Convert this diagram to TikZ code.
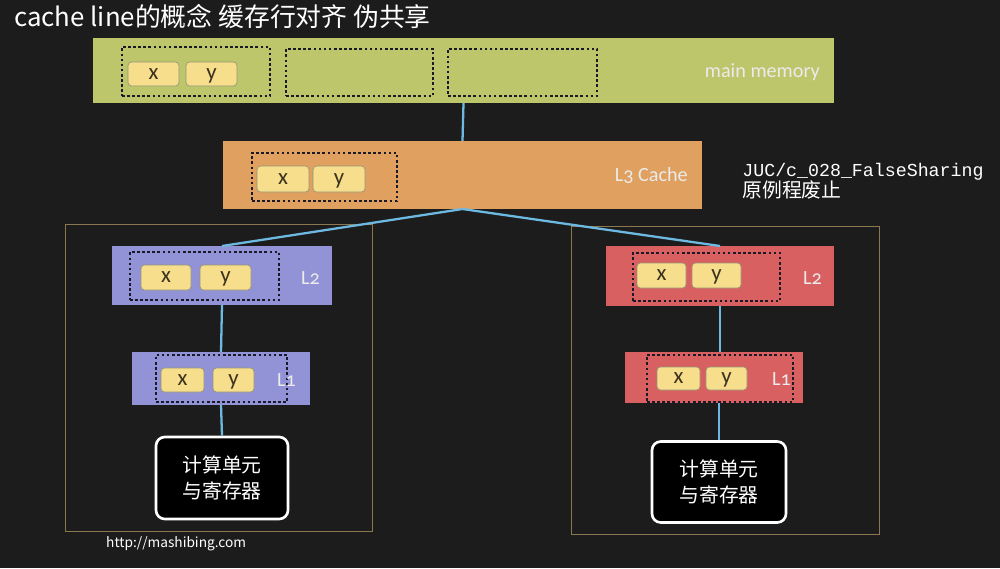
\documentclass[tikz,border=0pt]{standalone}
\usepackage{fontspec}
\setmainfont{Noto Sans CJK SC}
\newfontfamily\lbl[Numbers=OldStyle]{Carlito}
\setmonofont{Liberation Mono}
\usetikzlibrary{fit}

\definecolor{board}{RGB}{28,28,28}
\definecolor{memgreen}{RGB}{190,198,108}
\definecolor{l3orange}{RGB}{224,160,96}
\definecolor{coreblue}{RGB}{146,146,214}
\definecolor{corered}{RGB}{216,96,96}
\definecolor{cellyellow}{RGB}{246,222,140}
\definecolor{cellrim}{RGB}{150,150,120}
\definecolor{celltext}{RGB}{60,50,30}
\definecolor{linkblue}{RGB}{110,185,225}
\definecolor{frameline}{RGB}{140,120,80}
\definecolor{dotline}{RGB}{25,25,40}

\tikzset{
  level/.style={inner sep=0pt, outer sep=0pt},
  cacheline/.style={draw=dotline, line width=1.6pt, dash pattern=on 1.5pt off 1.4pt,
    inner sep=0pt},
  cell/.style 2 args={fill=cellyellow, draw=cellrim, rounded corners=2pt, inner sep=0pt,
    minimum width=#1*0.02cm, minimum height=#2*0.02cm,
    text=celltext, font=\lbl\fontsize{13}{14}\selectfont, text height=1.4ex, text depth=.35ex},
  tag/.style={text=white!92!black, font=\lbl\fontsize{11.5}{13}\selectfont, anchor=east},
  link/.style={draw=linkblue, line width=1.3pt},
  core/.style={draw=frameline, line width=0.5pt},
  cpu/.style={fill=black, draw=white, line width=1.5pt, rounded corners=5pt, inner sep=0pt,
    text=white, align=center, font=\fontsize{11.3}{14.7}\selectfont}
}

\begin{document}
\begin{tikzpicture}[x=0.02cm,y=-0.02cm]
  \fill[board] (0,0) rectangle (1000,568);
  \useasboundingbox (0,0) rectangle (1000,568);

  \node[anchor=west, text=white, font=\fontsize{14.7}{16}\selectfont] (title) at (8,17)
    {cache line的概念 缓存行对齐 伪共享};

  % the two cores
  \draw[core] (65,224) rectangle (372,531);
  \draw[core] (571,226) rectangle (879,534);

  % main memory
  \node[level, fill=memgreen, fit={(93,38) (834,103)}] (mem) {};
  \node[cacheline, fit={(122,47) (270,96)}] (memlineA) {};
  \node[cacheline, fit={(286,49) (433,96)}] (memlineB) {};
  \node[cacheline, fit={(448,49) (597,96)}] (memlineC) {};
  \node[cell={51}{24}] (memx) at (153.5,74) {x};
  \node[cell={51}{24}] (memy) at (211.5,74) {y};
  \node[tag] (memtag) at (826,72) {main memory};

  % L3
  \node[level, fill=l3orange, fit={(223,141) (702,209)}] (l3) {};
  \node[cacheline, fit={(252,153) (397,201)}] (l3line) {};
  \node[cell={52}{26}] (l3x) at (283,179) {x};
  \node[cell={52}{26}] (l3y) at (339,179) {y};
  \node[tag] (l3tag) at (694,176) {L3 Cache};

  \node[anchor=north west, inner sep=0pt, text=white, align=left] (note) at (742,163)
    {\fontsize{10.4}{12}\selectfont\ttfamily JUC/c\_028\_FalseSharing\\[0pt]
     \fontsize{11.3}{12}\selectfont\rmfamily 原例程废止};

  % left core
  \node[level, fill=coreblue, fit={(112,246) (332,305)}] (l2a) {};
  \node[cacheline, fit={(130,252) (279,300)}] (l2aline) {};
  \node[cell={50}{25}] (l2ax) at (166,277.5) {x};
  \node[cell={51}{25}] (l2ay) at (225.5,277.5) {y};
  \node[tag] (l2atag) at (326,278) {L2};

  \node[level, fill=coreblue, fit={(132,352) (310,405)}] (l1a) {};
  \node[cacheline, fit={(156,355) (287,402)}] (l1aline) {};
  \node[cell={43}{24}] (l1ax) at (182.5,380) {x};
  \node[cell={41}{24}] (l1ay) at (233.5,380) {y};
  \node[tag] (l1atag) at (302,380) {L1};

  \node[cpu, minimum width=132*0.02cm, minimum height=82*0.02cm] (cpua) at (222,478)
    {计算单元\\与寄存器};

  % right core
  \node[level, fill=corered, fit={(606,246) (834,306)}] (l2b) {};
  \node[cacheline, fit={(633,253) (780,301)}] (l2bline) {};
  \node[cell={49}{25}] (l2bx) at (661.5,275.5) {x};
  \node[cell={49}{25}] (l2by) at (716.5,275.5) {y};
  \node[tag] (l2btag) at (828,278) {L2};

  \node[level, fill=corered, fit={(625,352) (803,403)}] (l1b) {};
  \node[cacheline, fit={(647,355) (793,402)}] (l1bline) {};
  \node[cell={43}{23}] (l1bx) at (678.5,378.5) {x};
  \node[cell={41}{23}] (l1by) at (726.5,378.5) {y};
  \node[tag] (l1btag) at (797,379) {L1};

  \node[cpu, minimum width=134*0.02cm, minimum height=81*0.02cm] (cpub) at (719,482)
    {计算单元\\与寄存器};

  % links
  \draw[link] (mem.south) -- (l3.north);
  \draw[link] (l3.south) -- (l2a.north);
  \draw[link] (l3.south) -- (l2b.north);
  \draw[link] (l2a.south) -- (l1a.north);
  \draw[link] (l1a.south) -- (cpua.north);
  \draw[link] (l2b.south) -- (l2b.south |- l1b.north);
  \draw[link] (cpub.north |- l1b.south) -- (cpub.north);

  \node[anchor=west, text=white, font=\fontsize{7.8}{9}\selectfont] (site) at (100,544)
    {http://mashibing.com};
\end{tikzpicture}
\end{document}
